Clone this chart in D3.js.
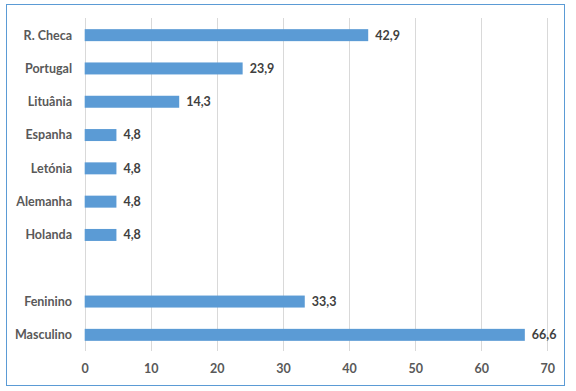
<!doctype html>
<html>
  <head>
    <meta charset="utf-8">
    <script src="https://cdnjs.cloudflare.com/ajax/libs/d3/7.8.5/d3.min.js"></script>
    <style>
      body { margin: 0; background: #fff; }
      text { font-family: Lato, "Open Sans", sans-serif; font-weight: bold; }
    </style>
  </head>
  <body>
    <svg width="576" height="391"></svg>
    <script>
        // categories top to bottom, "" is the empty gap row
        var categories = ["R. Checa", "Portugal", "Lituânia", "Espanha", "Letónia", "Alemanha", "Holanda", "", "Feninino", "Masculino"];
        var values = [42.9, 23.9, 14.3, 4.8, 4.8, 4.8, 4.8, null, 33.3, 66.6];
        var xTicks = [0, 10, 20, 30, 40, 50, 60, 70];

        var svg = d3.select("svg");

        svg.append("rect")
            .attr("x", 6.5).attr("y", 4.5)
            .attr("width", 558).attr("height", 381)
            .attr("fill", "#fff")
            .attr("stroke", "#5b9bd5")
            .attr("stroke-width", 1);

        var x = d3.scaleLinear().domain([0, 70]).range([84.7, 547.3]);
        var y = d3.scaleBand()
            .domain(d3.range(categories.length))
            .range([18.5, 351.5])
            .paddingInner(0.64)
            .paddingOuter(0.32);

        // gridlines
        svg.append("g").selectAll("line")
            .data(xTicks)
            .enter()
            .append("line")
                .attr("x1", d => Math.round(x(d)) + 0.5)
                .attr("x2", d => Math.round(x(d)) + 0.5)
                .attr("y1", 18)
                .attr("y2", 351)
                .attr("stroke", "#d9d9d9");

        var xAxis = d3.axisBottom(x).tickValues(xTicks).tickSize(0).tickPadding(0);
        svg.append("g")
            .attr("transform", "translate(0,364)")
            .call(xAxis)
            .call(g => g.select(".domain").remove())
            .selectAll("text")
                .attr("fill", "#595959")
                .attr("font-size", "12.5px")
                .attr("dy", "0.71em")
                .style("font-family", "Lato, sans-serif")
                .style("font-weight", "bold");

        var rows = categories.map((c, i) => ({name: c, value: values[i], i: i}));

        svg.append("g").selectAll("rect")
            .data(rows.filter(d => d.value != null))
            .enter()
            .append("rect")
                .attr("x", x(0))
                .attr("y", d => y(d.i))
                .attr("width", d => x(d.value) - x(0))
                .attr("height", y.bandwidth())
                .attr("fill", "#5b9bd5");

        svg.append("g").selectAll("text")
            .data(rows)
            .enter()
            .append("text")
                .attr("x", 72)
                .attr("y", d => y(d.i) + y.bandwidth() / 2)
                .attr("dy", "0.35em")
                .attr("text-anchor", "end")
                .attr("font-size", "12.5px")
                .attr("fill", "#595959")
                .text(d => d.name);

        svg.append("g").selectAll("text")
            .data(rows.filter(d => d.value != null))
            .enter()
            .append("text")
                .attr("x", d => x(d.value) + 7)
                .attr("y", d => y(d.i) + y.bandwidth() / 2)
                .attr("dy", "0.35em")
                .attr("font-size", "12.5px")
                .attr("fill", "#404040")
                .text(d => d3.format(".1f")(d.value).replace(".", ","));
    </script>
  </body>
</html>
